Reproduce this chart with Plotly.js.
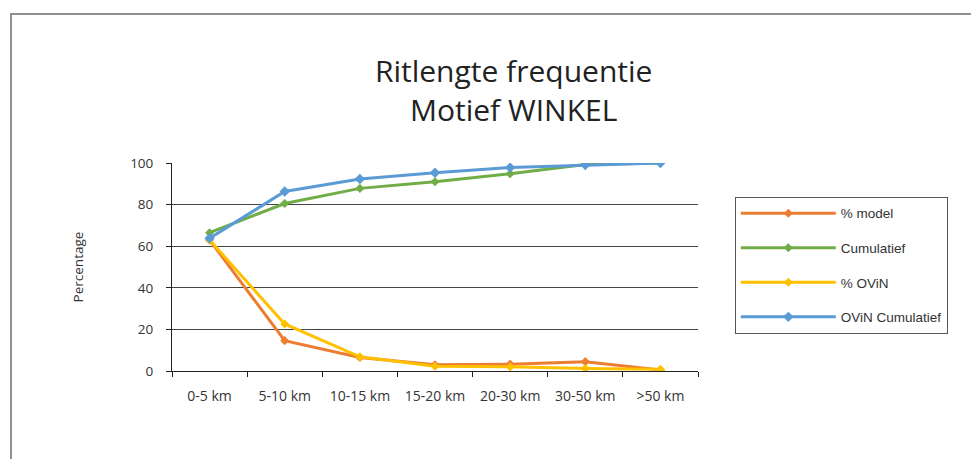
<!DOCTYPE html>
<html>
<head>
<meta charset="utf-8">
<script src="https://cdn.plot.ly/plotly-3.0.1.min.js"></script>
<style>html,body{margin:0;padding:0;background:#fff;}#chart{width:971px;height:459px;}</style>
</head>
<body>
<div id="chart"></div>
<script>
const categories = ["0-5 km", "5-10 km", "10-15 km", "15-20 km", "20-30 km", "30-50 km", ">50 km"];
const pctModel = [63, 14.6, 6.5, 3, 3.3, 4.5, 0.5];
const cumModel = [66.5, 80.5, 87.8, 91, 94.8, 99.3, 100];
const pctOvin = [63, 22.6, 6.8, 2.3, 2, 1.2, 0.8];
const cumOvin = [63.8, 86.3, 92.3, 95.3, 97.8, 99, 100];

const seriesNames = ["% model", "Cumulatief", "% OViN", "OViN Cumulatief"];
const seriesColors = ["#ED7D31", "#70AD47", "#FFC000", "#5B9BD5"];
const seriesData = [pctModel, cumModel, pctOvin, cumOvin];

const traces = seriesData.map((vals, i) => ({
  type: "scatter",
  mode: "lines+markers",
  x: categories,
  y: vals,
  name: seriesNames[i],
  legendgroup: "g" + i,
  line: {color: seriesColors[i], width: 3},
  marker: {color: seriesColors[i], symbol: "diamond", size: i === 3 ? 8 : 7}
}));

const layout = {
  width: 971, height: 459,
  margin: {l: 172, r: 273, t: 163, b: 88},
  paper_bgcolor: "#ffffff",
  plot_bgcolor: "#ffffff",
  font: {family: "'Open Sans', 'Noto Sans', sans-serif", color: "#333"},
  title: {
    text: "Ritlengte frequentie<br>Motief WINKEL",
    font: {size: 30, color: "#222", family: "'Open Sans', 'Noto Sans', sans-serif"},
    xref: "container", x: 0.529, xanchor: "center",
    yref: "container", y: 0.822, yanchor: "middle"
  },
  xaxis: {
    type: "category",
    range: [-0.5, 6.5],
    tickson: "boundaries",
    ticks: "outside", ticklen: 5, tickcolor: "#222",
    ticklabelstandoff: 12,
    showline: true, linecolor: "#222", linewidth: 1,
    showgrid: false,
    tickfont: {size: 14, color: "#333"},
    fixedrange: true
  },
  yaxis: {
    range: [0, 100],
    dtick: 20,
    ticks: "outside", ticklen: 5, tickcolor: "#222",
    ticklabelstandoff: 10,
    showline: true, linecolor: "#222", linewidth: 1,
    showgrid: true, gridcolor: "#444", gridwidth: 1,
    zeroline: false,
    tickfont: {size: 13.5, color: "#333"},
    title: {text: "Percentage", font: {size: 13.5, color: "#333"}, standoff: 43},
    fixedrange: true
  },
  showlegend: true,
  legend: {
    x: 1.07, xanchor: "left",
    y: 0.837, yanchor: "top",
    bordercolor: "#555", borderwidth: 1,
    bgcolor: "#fff",
    font: {size: 13.5, color: "#333", family: "Arial, 'Liberation Sans', sans-serif"},
    traceorder: "grouped",
    tracegroupgap: 14,
    itemwidth: 95
  },
  shapes: [{
    type: "rect", xref: "paper", yref: "paper",
    x0: -0.306, x1: 1.8, y0: -1.0, y1: 1.716,
    line: {color: "#909090", width: 2}, fillcolor: "rgba(0,0,0,0)", layer: "below"
  }]
};

Plotly.newPlot("chart", traces, layout, {displayModeBar: false, staticPlot: true});
</script>
</body>
</html>
